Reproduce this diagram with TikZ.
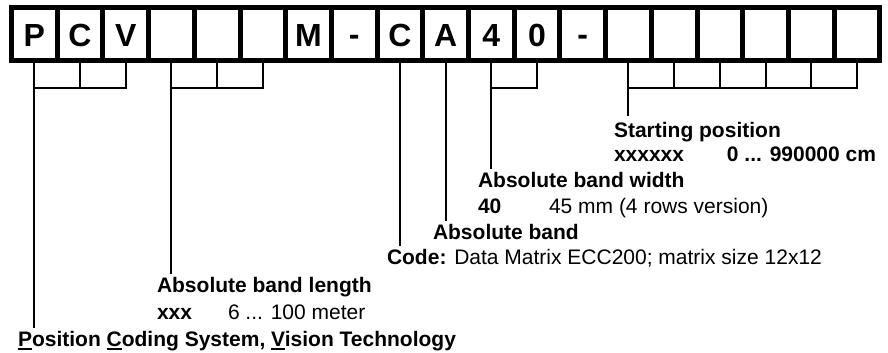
\documentclass[tikz,border=0pt]{standalone}
\usepackage{fontspec}
\setmainfont{Liberation Sans}
\usetikzlibrary{positioning}

% underlined initial letter
\newcommand{\ulletter}[1]{\setbox0\hbox{#1}\rlap{\rule[-4pt]{\wd0}{1.8pt}}#1}
% raised dash in a code box
\newcommand{\codedash}{\raisebox{1.5pt}{-}}

\begin{document}
\begin{tikzpicture}[x=1pt, y=-1pt,
  cell/.style={draw, line width=5pt, minimum width=45.7pt, minimum height=53pt,
               inner sep=0pt, outer sep=0pt, text height=26pt, text depth=0pt,
               font=\fontsize{32}{32}\selectfont\bfseries},
  lead/.style={line width=2pt},
  lbl/.style={anchor=base west, inner sep=3pt, outer sep=0pt,
              font=\fontsize{21}{25}\selectfont}]

\useasboundingbox (0,0) rectangle (888,353);

% === Code field ===
\foreach \i/\ch in {0/P,1/C,2/V,3/{},4/{},5/{},6/M,7/\codedash,8/C,9/A,10/4,11/0,12/\codedash,
                    13/{},14/{},15/{},16/{},17/{},18/{}} {
  \node[cell] (c\i) at (34.35+45.7*\i, 34) {\ch};
}

% === Texts ===
\node[lbl] (start) at (611,137) {\bfseries Starting position};
\node[lbl] (startval) at (611,161) {\bfseries\makebox[113pt][l]{xxxxxx}0 ... 990000 cm};
\node[lbl] (width) at (475,187) {\bfseries Absolute band width};
\node[lbl] (widthval) at (475,213) {\makebox[71pt][l]{\bfseries 40}45 mm (4 rows version)};
\node[lbl] (band) at (430,239) {\bfseries Absolute band};
\node[lbl] (code) at (384,264) {\textbf{Code:} Data Matrix ECC200; matrix size 12x12};
\node[lbl] (length) at (154,292) {\bfseries Absolute band length};
\node[lbl] (lengthval) at (154,319) {\makebox[71pt][l]{\bfseries xxx}6 ... 100 meter};
\node[lbl] (system) at (15,346)
     {\bfseries \ulletter{P}osition \ulletter{C}oding System, \ulletter{V}ision Technology};

% === Brackets ===
\foreach \i in {0,1,2,3,4,5,10,11,13,14,15,16,17,18} {
  \draw[lead] (c\i.south) -- ++(0,27.5);
}
\draw[lead] (c2.south) -- ++(0,27.5) -| (c0 |- system.north);
\draw[lead] (c5.south) -- ++(0,27.5) -| (c3 |- length.north);
\draw[lead] (c11.south) -- ++(0,27.5) -| (c10 |- width.north);
\draw[lead] (c18.south) -- ++(0,27.5) -| ([yshift=3pt]c13 |- start.north);

% Single leads
\draw[lead] (c8.south) -- (c8 |- code.north);
\draw[lead] (c9.south) -- (c9 |- band.north);

\end{tikzpicture}
\end{document}
